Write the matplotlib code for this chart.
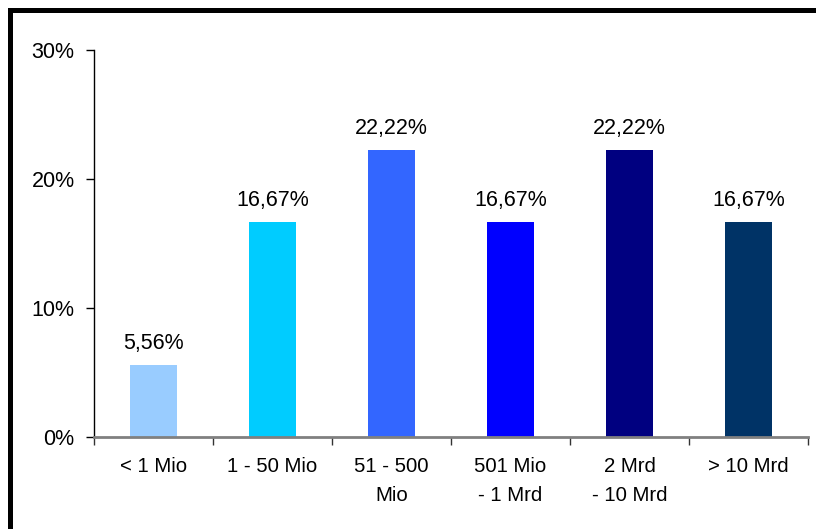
import matplotlib.pyplot as plt
from matplotlib.patches import Rectangle
from matplotlib.ticker import FixedLocator, NullFormatter

plt.rcParams['font.family'] = ['Liberation Sans', 'DejaVu Sans']

categories = ['< 1 Mio', '1 - 50 Mio', '51 - 500\nMio', '501 Mio\n- 1 Mrd', '2 Mrd\n- 10 Mrd', '> 10 Mrd']
values = [5.56, 16.67, 22.22, 16.67, 22.22, 16.67]
labels = ['5,56%', '16,67%', '22,22%', '16,67%', '22,22%', '16,67%']
colors = ['#99CCFF', '#00CCFF', '#3366FF', '#0000FF', '#000080', '#003366']
yticks = [0, 10, 20, 30]

fig = plt.figure(figsize=(8.16, 5.29), dpi=100)
ax = fig.add_axes([94 / 816, 1 - 437 / 529, 714 / 816, 387 / 529])

x = list(range(len(values)))
ax.bar(x, values, width=0.40, color=colors, zorder=2)

for xi, v, lab in zip(x, values, labels):
    ax.annotate(lab, (xi, v), xytext=(0, 11.5), textcoords='offset points',
                ha='center', va='baseline', fontsize=15.5)

ax.set_xlim(-0.5, len(values) - 0.5)
ax.set_ylim(0, 30)
ax.set_yticks(yticks)
ax.set_yticklabels([f'{t}%' for t in yticks])

ax.set_xticks(x)
ax.set_xticklabels(categories, fontsize=14.7, linespacing=1.67)
ax.tick_params(axis='x', which='major', length=0, pad=14.5)
ax.xaxis.set_minor_locator(FixedLocator([i - 0.5 for i in range(len(values) + 1)]))
ax.xaxis.set_minor_formatter(NullFormatter())
ax.tick_params(axis='x', which='minor', length=6, width=1, color='#333333', direction='out')
ax.tick_params(axis='y', length=6, width=1, direction='out', labelsize=15.5, pad=8)

for side in ['top', 'right']:
    ax.spines[side].set_visible(False)
ax.spines['left'].set_color('black')
ax.spines['left'].set_linewidth(1)
ax.spines['bottom'].set_color('#808080')
ax.spines['bottom'].set_linewidth(2)

# thick frame, cut off at the right and bottom edges
fig.patches.append(Rectangle((10 / 816, -0.1), 1.2, 1.1 - 10 / 529,
                             transform=fig.transFigure, fill=False,
                             edgecolor='black', linewidth=3.6))

fig.savefig('out.png', dpi=100)
